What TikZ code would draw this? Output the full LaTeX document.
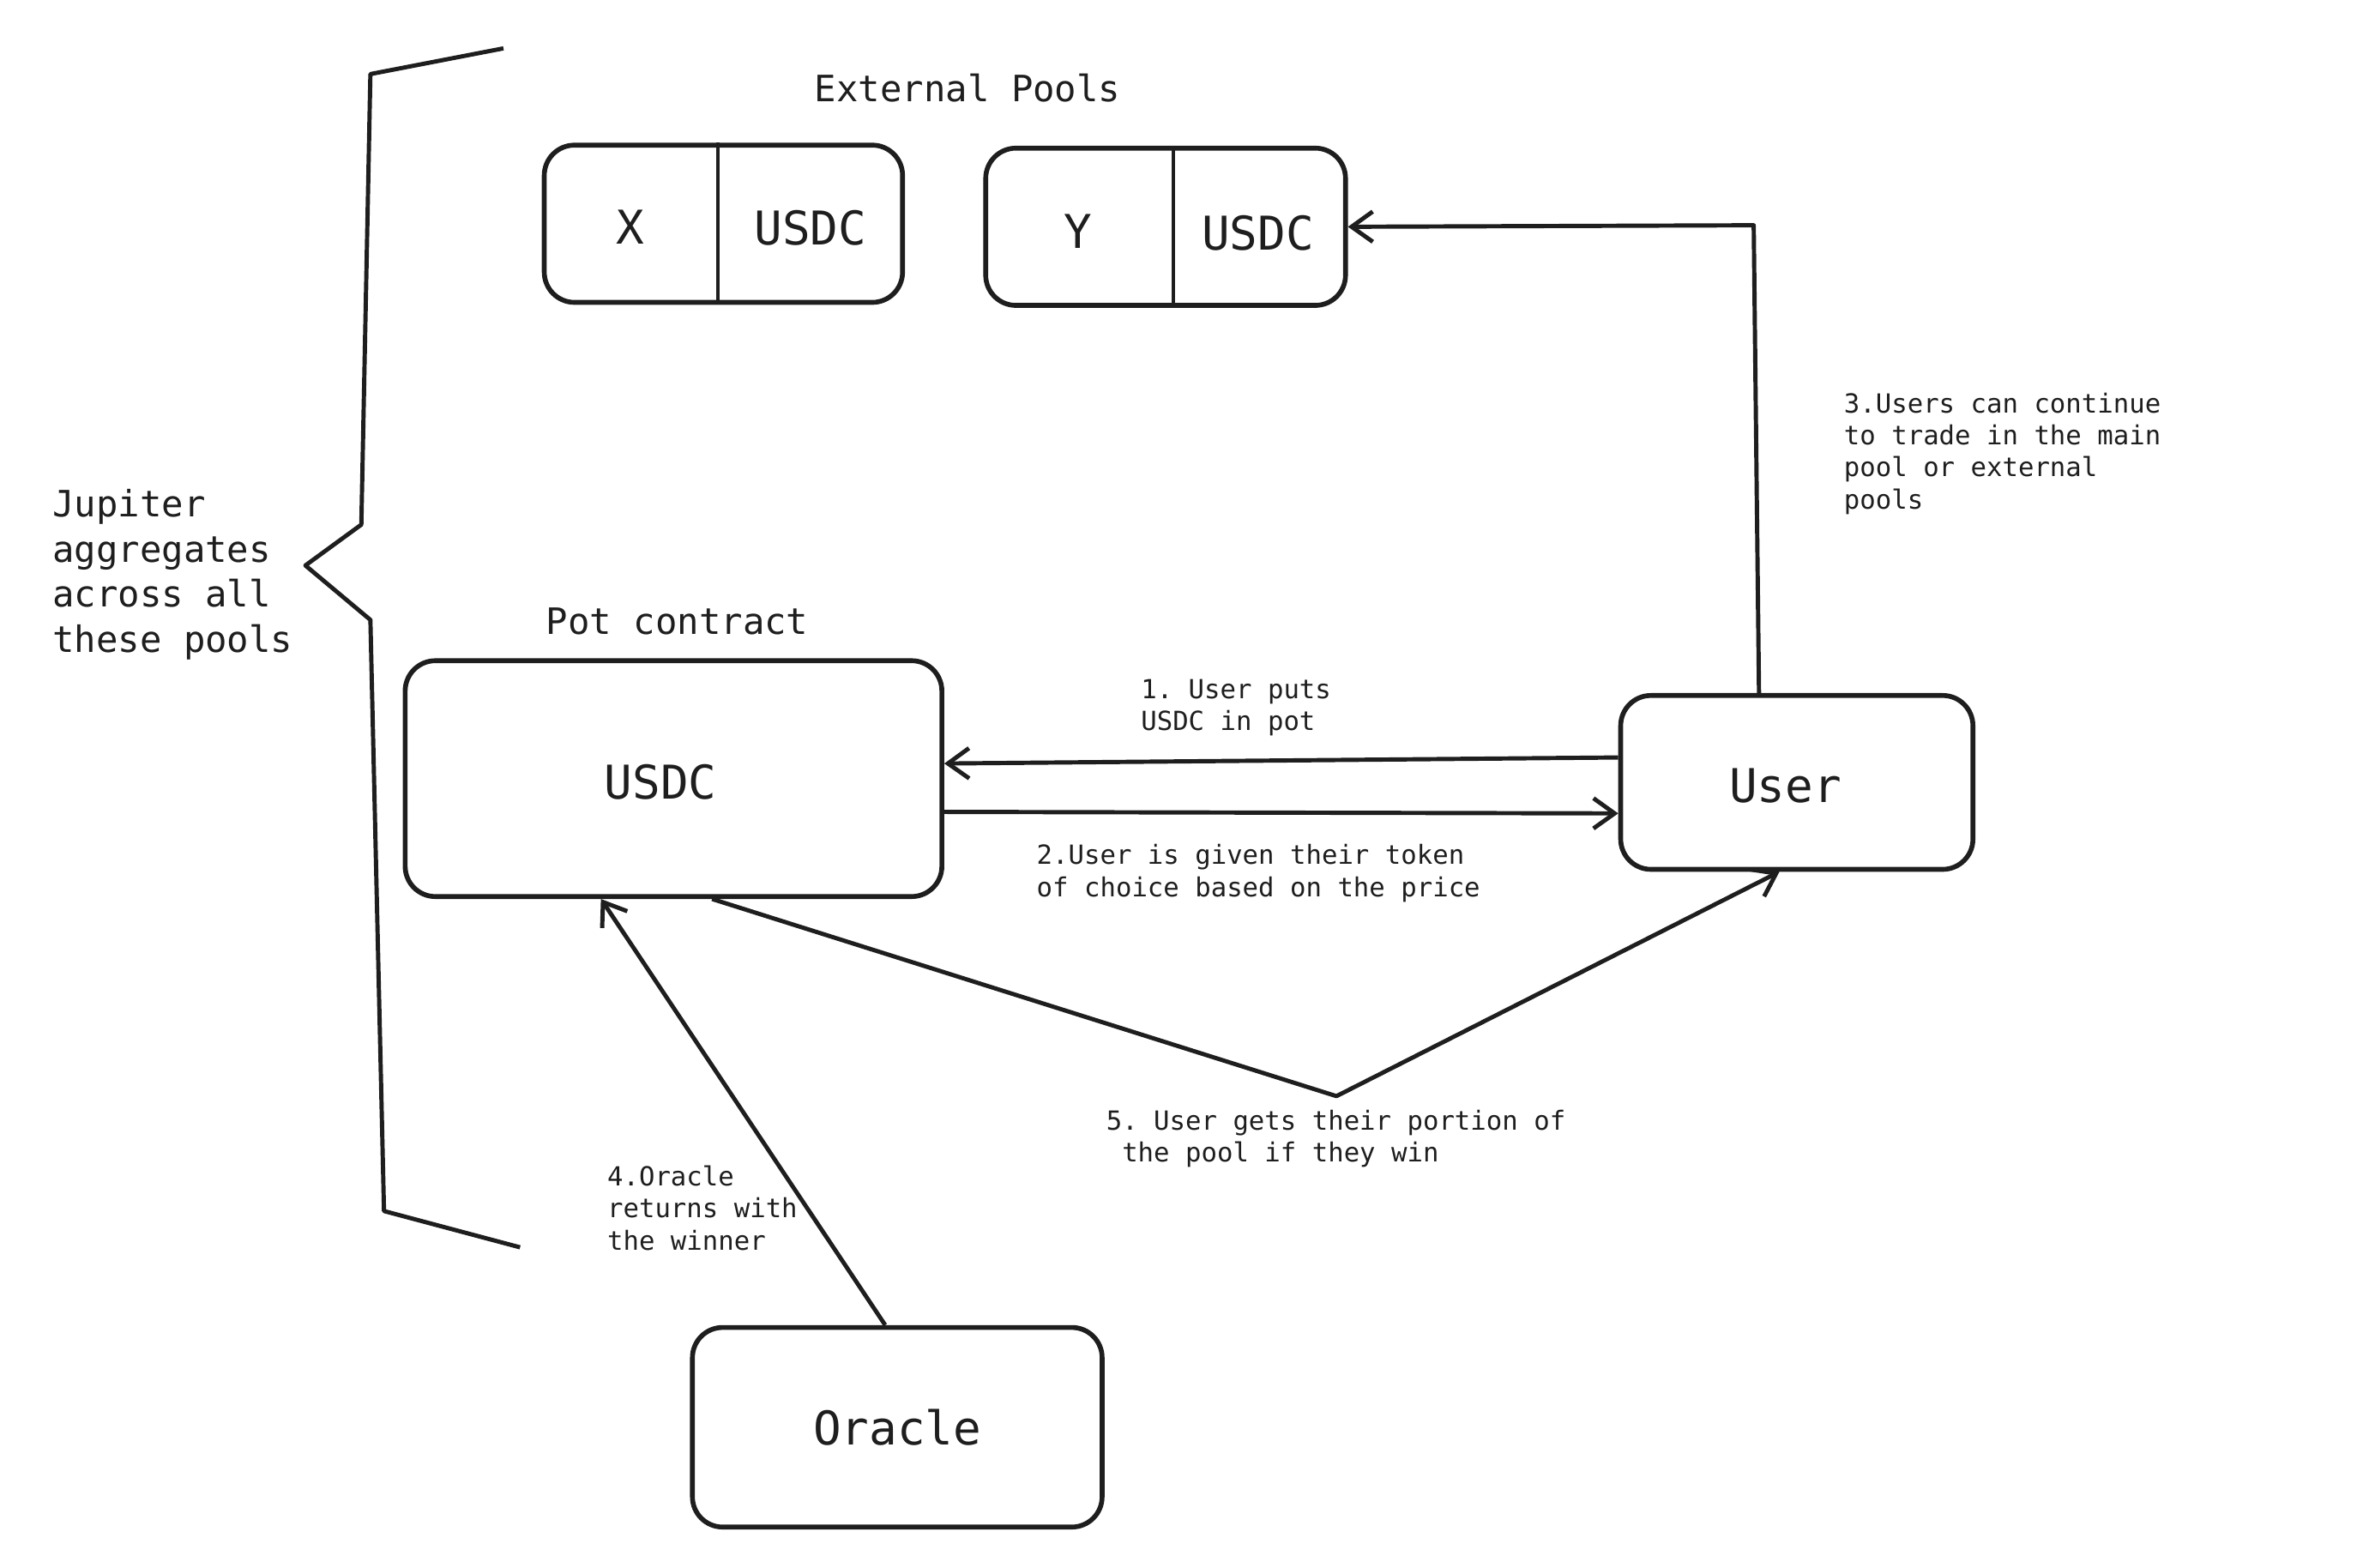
\documentclass[tikz,border=0pt]{standalone}
\usepackage{fontspec}
\setmonofont{DejaVu Sans Mono}
\usetikzlibrary{arrows.meta}
\definecolor{ink}{HTML}{1E1E1E}
\tikzset{every picture/.style={line width=0.75pt}}
\tikzset{
  box/.style={draw=ink,line width=1.6pt,rounded corners=10pt,text=ink,font=\ttfamily\fontsize{15.4}{18}\selectfont},
  cell/.style={inner sep=0pt,text=ink,font=\ttfamily\fontsize{15.4}{18}\selectfont},
  head/.style={inner sep=0pt,text=ink,align=left,font=\ttfamily\fontsize{12}{15}\selectfont},
  note/.style={inner sep=0pt,anchor=west,text=ink,align=left,font=\ttfamily\fontsize{8.7}{10.6}\selectfont},
  flow/.style={draw=ink,line width=1.4pt,-{Straight Barb[length=7pt,width=10pt,line width=1.4pt]}}
}
\begin{document}
\begin{tikzpicture}[x=0.5pt,y=0.5pt,yscale=-1,xscale=1]
\useasboundingbox (0,0) rectangle (1567,1037);

%Shape: Brace
\draw [color=ink,line width=1.4pt,line join=round] (333,32) -- (245,49) -- (239,347) -- (202,374) -- (245,410) -- (254,801) -- (344,825) ;

% Text Node
\node [head,anchor=west] (jupiter) at (34,380) {Jupiter\\aggregates\\across all\\these pools};
% Text Node
\node [head] (extlbl) at (640,58) {External Pools};
% Text Node
\node [head] (potlbl) at (448,411) {Pot contract};

%Shape: Pool X
\node [box,minimum width=118.5pt,minimum height=52pt] (poolX) at (478.5,148) {};
\coordinate (divX) at (475,148);
\draw [color=ink,line width=1.2pt] (poolX.north -| divX) -- (poolX.south -| divX) ;
\node [cell] (xtok) at (417,150) {X};
\node [cell] (xusdc) at (536,151) {USDC};

%Shape: Pool Y
\node [box,minimum width=119pt,minimum height=52pt] (poolY) at (771,150) {};
\coordinate (divY) at (776,150);
\draw [color=ink,line width=1.2pt] (poolY.north -| divY) -- (poolY.south -| divY) ;
\node [cell] (ytok) at (713,153) {Y};
\node [cell] (yusdc) at (832,154) {USDC};

%Shape: Pot
\node [box,minimum width=177.5pt,minimum height=78pt] (pot) at (445.5,515) {};
\node [cell] (potusdc) at (437,517) {USDC};
%Shape: User
\node [box,minimum width=116.5pt,minimum height=57.5pt] (user) at (1188.5,517.5) {};
\node [cell] (usertxt) at (1181,520) {User};
%Shape: Oracle
\node [box,minimum width=135.5pt,minimum height=66pt] (oracle) at (593.5,944) {Oracle};

%Straight Lines
\draw [flow] ([yshift=-8.25pt]user.west) -- ([yshift=-5pt]pot.east) ;
\draw [flow] ([yshift=11pt]pot.east) -- ([yshift=10.25pt]user.west) ;
\coordinate (bend3) at (1160,149);
\draw [flow,line join=round] ([xshift=-12.5pt]user.north) -- (bend3) -- (poolY.east) ;
\draw [flow] ([xshift=-4pt]oracle.north) -- ([xshift=-24pt]pot.south) ;
\coordinate (bend5) at (884,725);
\draw [flow,line join=round] ([xshift=12.75pt]pot.south) -- (bend5) -- ([xshift=-5.75pt]user.south) ;

% Text Node
\node [note] (n1) at (754,468) {1. User puts\\USDC in pot};
% Text Node
\node [note] (n2) at (685,577.5) {2.User is given their token\\of choice based on the price};
% Text Node
\node [note] (n3) at (1219,300) {3.Users can continue\\to trade in the main\\pool or external\\pools};
% Text Node
\node [note] (n4) at (401,799) {4.Oracle\\returns with\\the winner};
% Text Node
\node [note] (n5) at (731,753) {5. User gets their portion of\\~the pool if they win};

\end{tikzpicture}
\end{document}
